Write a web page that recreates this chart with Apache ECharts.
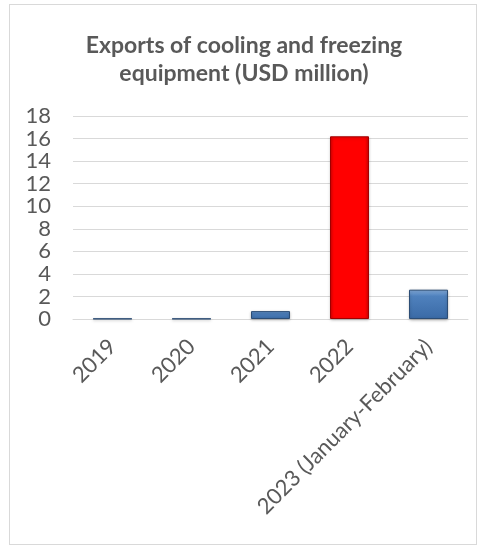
<!DOCTYPE html>
<html>
<head>
<meta charset="utf-8">
<script src="https://cdn.jsdelivr.net/npm/echarts@6/dist/echarts.min.js"></script>
<style>
  html, body { margin: 0; padding: 0; background: #ffffff; }
  #frame { position: absolute; left: 9px; top: 4px; width: 468px; height: 541px; border: 1px solid #d9d9d9; box-sizing: border-box; }
  #chart { position: absolute; left: 0; top: 0; width: 488px; height: 548px; }
</style>
</head>
<body>
<div id="frame"></div>
<div id="chart"></div>
<script>
// Export values per period, USD million
const categories = ['2019', '2020', '2021', '2022', '2023 (January-February)'];
const exportsUsd = [0.03, 0.03, 0.7, 16.2, 2.6];
const yTicks = [0, 2, 4, 6, 8, 10, 12, 14, 16, 18];

const blueFill = {
  type: 'linear', x: 0, y: 0, x2: 0, y2: 1,
  colorStops: [
    { offset: 0, color: '#86afe0' },
    { offset: 0.22, color: '#4f81bd' },
    { offset: 1, color: '#3a6aa6' }
  ]
};
const redFill = {
  type: 'linear', x: 0, y: 0, x2: 1, y2: 0,
  colorStops: [
    { offset: 0, color: '#d80000' },
    { offset: 0.1, color: '#ff0000' },
    { offset: 0.9, color: '#ff0000' },
    { offset: 1, color: '#d00000' }
  ]
};

const fontFamily = 'Lato, "Open Sans", sans-serif';

const chart = echarts.init(document.getElementById('chart'), null, { renderer: 'canvas' });
chart.setOption({
  animation: false,
  backgroundColor: 'transparent',
  title: {
    text: 'Exports of cooling and freezing\nequipment (USD million)',
    left: 'center',
    top: 27,
    padding: [5, 0, 5, 8],
    textStyle: {
      fontFamily: fontFamily,
      fontSize: 23,
      fontWeight: 'bold',
      color: '#595959',
      lineHeight: 28
    }
  },
  grid: { left: 73, right: 20, top: 116, bottom: 229, containLabel: false },
  xAxis: {
    type: 'category',
    data: categories,
    axisLine: { show: true, lineStyle: { color: '#d9d9d9', width: 1 } },
    axisTick: { show: false },
    axisLabel: {
      rotate: 45,
      interval: 0,
      margin: 24,
      fontFamily: fontFamily,
      fontSize: 22,
      color: '#595959'
    }
  },
  yAxis: {
    type: 'value',
    min: 0,
    max: 18,
    interval: 2,
    axisLine: { show: false },
    axisTick: { show: false },
    splitLine: { lineStyle: { color: '#d9d9d9', width: 1 } },
    axisLabel: {
      margin: 22,
      fontFamily: fontFamily,
      fontSize: 22,
      color: '#595959',
      formatter: v => (yTicks.includes(v) ? String(v) : '')
    }
  },
  series: [{
    type: 'bar',
    barWidth: 39,
    data: exportsUsd.map((v, i) => ({
      value: v,
      itemStyle: i === 3
        ? { color: redFill, borderColor: '#a00000', borderWidth: 1 }
        : { color: blueFill, borderColor: '#2c4d75', borderWidth: 1 }
    })),
    itemStyle: { shadowColor: 'rgba(0,0,0,0.25)', shadowBlur: 3, shadowOffsetY: 1 }
  }]
});
</script>
</body>
</html>
